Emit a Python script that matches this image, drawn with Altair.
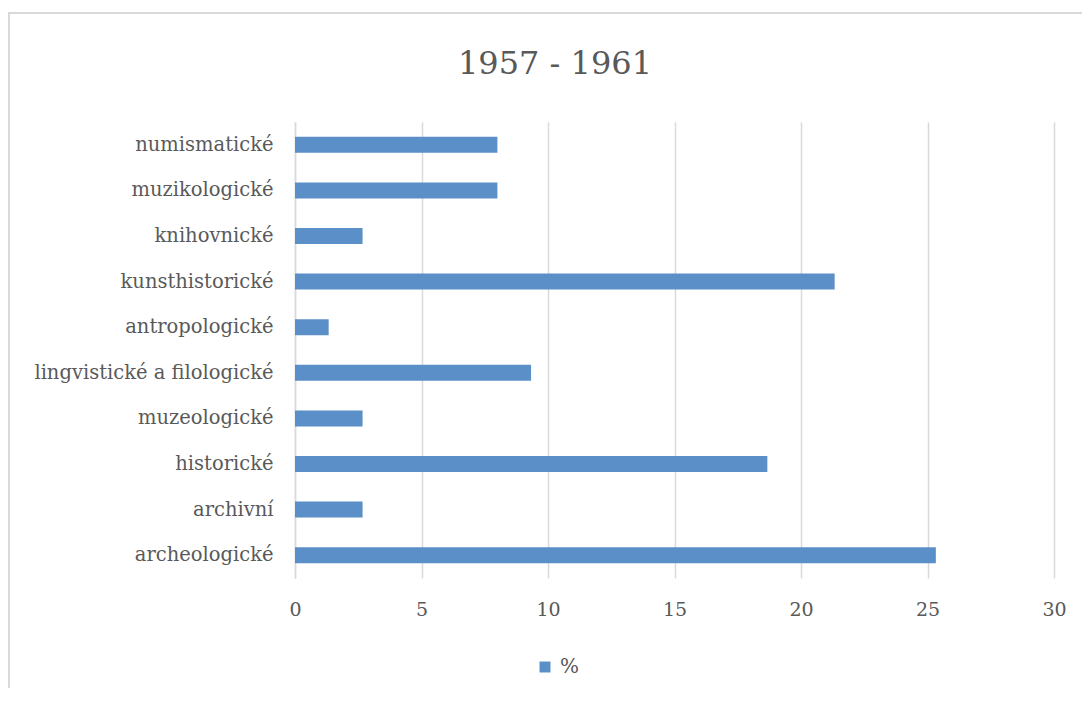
import altair as alt
import pandas as pd

categories = ["numismatické", "muzikologické", "knihovnické", "kunsthistorické",
              "antropologické", "lingvistické a filologické", "muzeologické",
              "historické", "archivní", "archeologické"]
values = [8.0, 8.0, 2.67, 21.33, 1.33, 9.33, 2.67, 18.67, 2.67, 25.33]
series = ["%"] * len(categories)
x_ticks = [0, 5, 10, 15, 20, 25, 30]
title_text = ["1957 - 1961"]

df = pd.DataFrame({"kategorie": categories, "hodnota": values, "serie": series})

FONT = "DejaVu Serif"
GREY = "#595959"
BLUE = "#5B8FC7"

border = alt.Chart(pd.DataFrame({"a": [0]})).mark_rect(
    fill=None, stroke="#d9d9d9", strokeWidth=2, clip=False
).encode(
    x=alt.value(-286), x2=alt.value(820),
    y=alt.value(-109), y2=alt.value(620)
)

title = alt.Chart(pd.DataFrame({"t": title_text})).mark_text(
    font=FONT, fontSize=32, color=GREY, align="center", baseline="middle"
).encode(
    text="t:N", x=alt.value(260), y=alt.value(-58)
)

bars = alt.Chart(df).mark_bar(size=16).encode(
    y=alt.Y("kategorie:N", sort=categories, title=None,
            axis=alt.Axis(labelFont=FONT, labelFontSize=19.5, labelColor=GREY,
                          ticks=False, domain=True, domainColor="#d9d9d9",
                          domainWidth=1.5, labelPadding=22, grid=False,
                          labelLimit=300)),
    x=alt.X("hodnota:Q", title=None,
            scale=alt.Scale(domain=[0, 30], nice=False),
            axis=alt.Axis(values=x_ticks, labelFont=FONT, labelFontSize=19,
                          labelColor=GREY, ticks=False, domain=False,
                          grid=True, gridColor="#d9d9d9", gridWidth=1.5,
                          labelPadding=22, labelFlush=False)),
    color=alt.Color("serie:N", scale=alt.Scale(range=[BLUE]),
                    legend=alt.Legend(title=None, orient="none",
                                      legendX=240, legendY=535,
                                      symbolType="square", symbolSize=120,
                                      labelFont=FONT, labelFontSize=20,
                                      labelColor=GREY, symbolStrokeWidth=0,
                                      labelOffset=5))
)

chart = alt.layer(border, title, bars).properties(
    width=759, height=456,
    autosize=alt.AutoSizeParams(type="none"),
    padding={"left": 287, "top": 114, "right": 28, "bottom": 110},
).configure_view(stroke=None)

chart.save("out.html", embed_options={"renderer": "svg", "actions": False})
